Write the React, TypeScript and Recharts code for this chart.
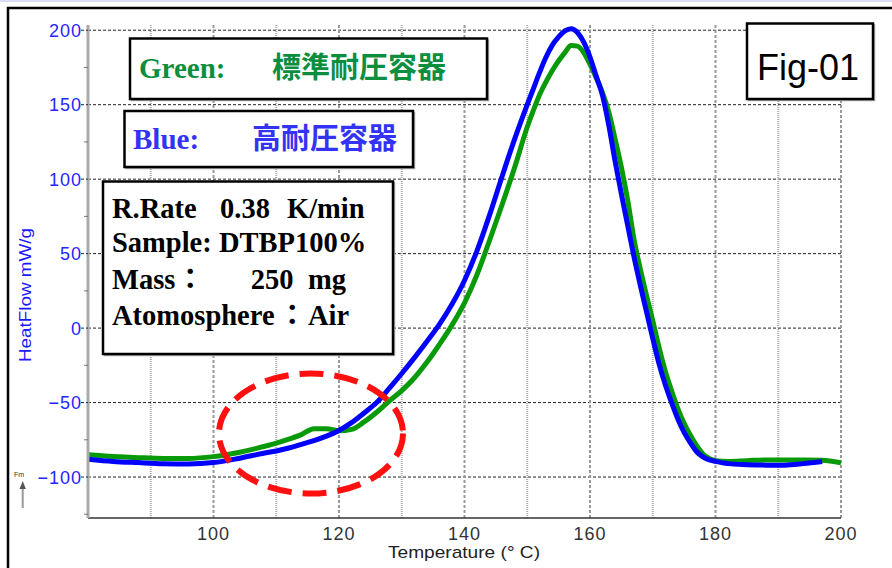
import React from "react";
import { LineChart, Line, XAxis, YAxis, CartesianGrid } from "recharts";

// temperature (°C) and heat flow (mW/g)
const temps = [80, 84, 88, 92, 96, 100, 104, 108, 110, 112, 114, 116, 118, 120, 122, 124, 126, 128, 130, 132, 134, 136, 138, 140, 142, 144, 146, 148, 150, 151, 152, 153, 154, 155, 156, 157, 158, 159, 160, 161, 162, 163, 164, 165, 166, 167, 168, 169, 170, 171, 172, 173, 174, 175, 176, 177, 178, 179, 180, 182, 185, 188, 191, 194, 197, 200];
const blueHF = [-88, -89.5, -90.3, -91, -91.2, -90.3, -87.5, -84, -82.5, -80.5, -78, -75.5, -72.5, -68.7, -63.5, -57, -50, -40.5, -30.5, -20, -9, 2.5, 16, 32, 52, 76, 102, 127, 150, 161, 172, 182, 190, 195.5, 199.5, 201, 198.5, 192, 182, 169, 156, 136, 112, 90, 69, 48, 29, 11, -7, -24, -38, -50, -61, -70, -77, -83, -86.5, -88.5, -89.5, -91, -91.7, -92, -92, -91, -89.5, null];
const greenHF = [-85, -86.2, -87, -87.5, -87.5, -86.3, -83.5, -79.5, -77.2, -74.5, -71.5, -67.5, -67.5, -69, -68, -63, -56.5, -49, -42, -33.5, -23, -11, 2, 17, 36, 59, 83, 108, 135, 146.5, 157, 165.5, 173, 179.5, 185, 189.7, 189.3, 185, 177, 168, 158, 145, 127, 108, 86, 60, 40, 22, 5, -13, -29, -42, -54, -64, -72, -79, -84.5, -87.5, -89, -89.5, -89, -88.5, -88.5, -88.5, -88.7, -90.5];

const xTicks = [90, 100, 110, 120, 130, 140, 150, 160, 170, 180, 190, 200];
const yTicks = [-125, -100, -75, -50, -25, 0, 25, 50, 75, 100, 125, 150, 175, 200];
const yGrid = [-100, -50, 0, 50, 100, 150, 200];
const xGridMajor = [100, 120, 140, 160, 180, 200];
const xGridMinor = [90, 110, 130, 150, 170, 190];

const data = temps.map((t, i) => ({ t, blue: blueHF[i], green: greenHF[i] }));

const SANS = "'Liberation Sans', Arial, sans-serif";
const SERIF = "'Liberation Serif', 'Times New Roman', serif";
const CJK = "'Noto Sans CJK JP', sans-serif";

const YTick = (props: any) => {
  const { x, y, payload } = props;
  const v = payload.value;
  if (v % 50 !== 0) {
    return <line x1={x - 4} x2={x} y1={y} y2={y} stroke="#777" strokeWidth={1} />;
  }
  return (
    <g>
      <line x1={x - 7} x2={x} y1={y} y2={y} stroke="#222" strokeDasharray="3 2" />
      <text x={x - 6} y={y + 6.5} textAnchor="end" fill="#2525ff" fontSize={18} fontFamily={SANS} letterSpacing={1}>
        {v < 0 ? `\u2212${-v}` : v}
      </text>
    </g>
  );
};

const XTick = (props: any) => {
  const { x, y, payload } = props;
  if (payload.value % 20 !== 0) return <g />;
  return (
    <text x={x} y={y + 22} textAnchor="middle" fill="#333" fontSize={18} fontFamily={SANS} letterSpacing={1}>
      {payload.value}
    </text>
  );
};

const Box = ({ x, y, w, h }: { x: number; y: number; w: number; h: number }) => (
  <g>
    <rect x={x + 1.5} y={y + 1.5} width={w} height={h} fill="none" stroke="#aaa" strokeWidth={1.5} />
    <rect x={x} y={y} width={w} height={h} fill="#fff" stroke="#000" strokeWidth={2.5} />
  </g>
);

export default function App() {
  return (
    <div style={{ position: "absolute", left: 0, top: 0, width: 892, height: 568, background: "#fff", overflow: "hidden" }}>
      <LineChart width={892} height={568} data={data} margin={{ top: 25, right: 51, bottom: 0, left: 0 }}>
        <CartesianGrid horizontal={true} vertical={false} horizontalValues={yGrid} stroke="#222" strokeDasharray="3 2" />
        <CartesianGrid horizontal={false} vertical={true} verticalValues={xGridMajor} stroke="#999" strokeWidth={2} strokeDasharray="3 2" />
        <CartesianGrid horizontal={false} vertical={true} verticalValues={xGridMinor} stroke="#aaa" strokeWidth={2} strokeDasharray="1 1" />
        <XAxis
          dataKey="t"
          type="number"
          domain={[80, 200]}
          ticks={xTicks}
          height={50}
          tickSize={0}
          tickMargin={0}
          tick={<XTick />}
          axisLine={{ stroke: "#333", strokeWidth: 1.5 }}
          tickLine={false}
          allowDataOverflow
        />
        <YAxis
          type="number"
          domain={[-127.5, 203.5]}
          ticks={yTicks}
          width={88}
          tickSize={0}
          tickMargin={0}
          tick={<YTick />}
          axisLine={{ stroke: "#aaa", strokeWidth: 3 }}
          tickLine={false}
          allowDataOverflow
        />
        <Line dataKey="green" type="monotone" stroke="#089a08" strokeWidth={5} dot={false} isAnimationActive={false} />
        <Line dataKey="blue" type="monotone" stroke="#0000ff" strokeWidth={5} dot={false} isAnimationActive={false} />
      </LineChart>

      <svg width={892} height={568} style={{ position: "absolute", left: 0, top: 0, pointerEvents: "none" }}>
        <rect x={0} y={0} width={892} height={2} fill="#dcdcf5" />
        <rect x={8} y={8} width={900} height={600} fill="none" stroke="#000" strokeWidth={2.5} />

        {/* axis titles */}
        <text
          transform="translate(31,295) rotate(-90)"
          textAnchor="middle"
          fill="#1a1aff"
          fontSize={17}
          fontFamily={SANS}
          textLength={134}
          lengthAdjust="spacingAndGlyphs"
        >
          HeatFlow  mW/g
        </text>
        <text x={388} y={558} fill="#222" fontSize={17} fontFamily={SANS} textLength={152} lengthAdjust="spacingAndGlyphs">
          Temperature (° C)
        </text>
        <text x={14} y={477} fill="#333" fontSize={7} fontFamily={SANS}>Fm</text>
        <line x1={22.7} x2={22.7} y1={508} y2={487} stroke="#999" strokeWidth={2} />
        <polygon points="19.5,489 22.7,481 25.9,489" fill="#555" />

        {/* legend boxes */}
        <Box x={130} y={38.5} w={357} h={60.5} />
        <text y={78} fill="#0b8f3f" fontWeight="bold" fontSize={29}>
          <tspan x={139} fontFamily={SERIF}>Green:</tspan>
          <tspan x={272} fontFamily={CJK}>標準耐圧容器</tspan>
        </text>

        <Box x={124.5} y={111} w={288.5} h={56} />
        <text y={148.5} fill="#3333f5" fontWeight="bold" fontSize={29}>
          <tspan x={133} fontFamily={SERIF}>Blue:</tspan>
          <tspan x={252} fontFamily={CJK}>高耐圧容器</tspan>
        </text>

        <Box x={103} y={181.5} w={290} h={172.5} />
        <g fill="#000" fontWeight="bold" fontSize={28.5} fontFamily={SERIF}>
          <text y={217.7}>
            <tspan x={112}>R.Rate</tspan>
            <tspan x={220}>0.38</tspan>
            <tspan x={287}>K/min</tspan>
          </text>
          <text x={112} y={251.7}>Sample: DTBP100%</text>
          <text y={289}>
            <tspan x={112}>Mass</tspan>
            <tspan x={176} fontFamily={CJK}>：</tspan>
            <tspan x={250.7}>250</tspan>
            <tspan x={308}>mg</tspan>
          </text>
          <text y={325}>
            <tspan x={112}>Atomosphere</tspan>
            <tspan x={278} fontFamily={CJK}>：</tspan>
            <tspan x={308}>Air</tspan>
          </text>
        </g>

        <Box x={747} y={23.5} w={126} h={75.5} />
        <text x={757} y={80} fill="#000" fontSize={36} fontFamily={SANS}>Fig-01</text>

        {/* highlighted region */}
        <ellipse cx={311} cy={433.5} rx={92} ry={60} fill="none" stroke="#ff1010" strokeWidth={6} strokeDasharray="24 11" />
      </svg>
    </div>
  );
}
